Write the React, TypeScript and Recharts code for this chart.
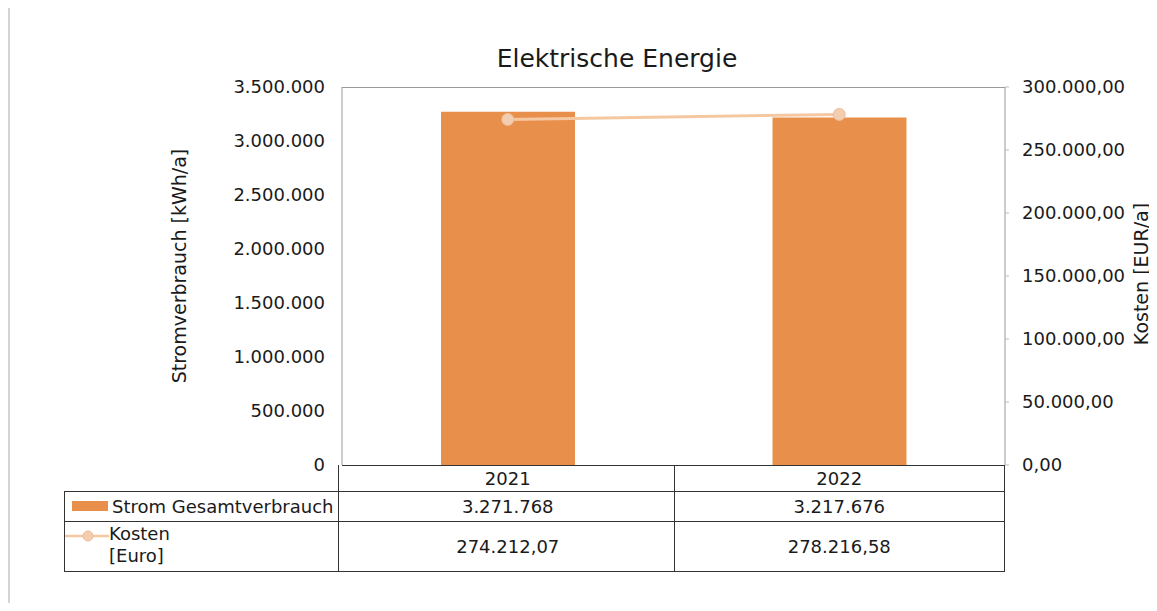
import { ComposedChart, Bar, Line, XAxis, YAxis } from "recharts";

const years = ["2021", "2022"];
const stromKwh = [3271768, 3217676];
const kostenEur = [274212.07, 278216.58];
const stromTicks = [0, 500000, 1000000, 1500000, 2000000, 2500000, 3000000, 3500000];
const kostenTicks = [0, 50000, 100000, 150000, 200000, 250000, 300000];

const FONT = "'DejaVu Sans', Verdana, sans-serif";
const BAR_COLOR = "#e98f4c";
const LINE_COLOR = "#f5c8a2";
const TEXT = "#1a1a1a";

// german number formatting, done by hand so it does not depend on ICU
function fmtInt(n: number) {
  return Math.round(n).toString().replace(/\B(?=(\d{3})+(?!\d))/g, ".");
}
function fmtDec(n: number) {
  const [i, d] = n.toFixed(2).split(".");
  return i.replace(/\B(?=(\d{3})+(?!\d))/g, ".") + "," + d;
}

const data = years.map((year, i) => ({
  year,
  strom: stromKwh[i],
  kosten: kostenEur[i],
}));

// plot area edges in page pixels
const PLOT_L = 342;
const PLOT_R = 1005;
const PLOT_T = 87;
const PLOT_B = 465;
const W = 1157;
const H = 611;

const cell: React.CSSProperties = {
  position: "absolute",
  display: "flex",
  alignItems: "center",
  justifyContent: "center",
  fontSize: 18,
  color: TEXT,
  boxSizing: "border-box",
  whiteSpace: "nowrap",
};

function DataTable() {
  const colW = (PLOT_R - PLOT_L) / years.length;
  const rowYear = { top: PLOT_B, h: 26 };
  const rowStrom = { top: 491, h: 30 };
  const rowKosten = { top: 521, h: 51 };
  const bottom = rowKosten.top + rowKosten.h;
  const line = "1px solid #333";
  const legL = 64;
  return (
    <>
      <div style={{ position: "absolute", left: PLOT_L - 4, top: PLOT_B, width: PLOT_R - PLOT_L + 4, height: bottom - PLOT_B, borderLeft: line, borderRight: line, borderBottom: line, boxSizing: "border-box" }} />
      <div style={{ position: "absolute", left: legL, top: rowStrom.top, width: PLOT_L - 4 - legL, height: bottom - rowStrom.top, border: line, borderRight: "none", boxSizing: "border-box" }} />
      <div style={{ position: "absolute", left: PLOT_L - 4, top: rowStrom.top, width: PLOT_R - PLOT_L + 4, borderTop: line }} />
      <div style={{ position: "absolute", left: legL, top: rowKosten.top, width: PLOT_R - legL, borderTop: line }} />
      <div style={{ position: "absolute", left: PLOT_L + colW, top: PLOT_B, height: bottom - PLOT_B, borderLeft: line }} />

      {years.map((y, i) => (
        <div key={y}>
          <div style={{ ...cell, left: PLOT_L + i * colW, top: rowYear.top, width: colW, height: rowYear.h }}>{y}</div>
          <div style={{ ...cell, left: PLOT_L + i * colW, top: rowStrom.top, width: colW, height: rowStrom.h }}>{fmtInt(stromKwh[i])}</div>
          <div style={{ ...cell, left: PLOT_L + i * colW, top: rowKosten.top, width: colW, height: rowKosten.h }}>{fmtDec(kostenEur[i])}</div>
        </div>
      ))}

      {/* legend column */}
      <div style={{ ...cell, left: 72, top: rowStrom.top, height: rowStrom.h, justifyContent: "flex-start" }}>
        <span style={{ display: "inline-block", width: 36, height: 10, background: BAR_COLOR, marginRight: 4 }} />
        Strom Gesamtverbrauch
      </div>
      <div style={{ ...cell, left: 65, top: rowKosten.top + 2, height: rowKosten.h, justifyContent: "flex-start", alignItems: "flex-start" }}>
        <svg width={44} height={24} style={{ marginTop: 1 }}>
          <line x1={0} y1={12} x2={44} y2={12} stroke={LINE_COLOR} strokeWidth={2.5} />
          <circle cx={23} cy={12} r={5} fill="#f3cdb0" stroke="#efbd95" />
        </svg>
        <div style={{ lineHeight: "22px" }}>
          Kosten
          <br />
          [Euro]
        </div>
      </div>
    </>
  );
}

export default function App() {
  return (
    <div style={{ position: "relative", width: W, height: H, margin: -8, fontFamily: FONT, background: "#fff", overflow: "hidden" }}>
      {/* page frame */}
      <div style={{ position: "absolute", left: 8, top: -2, width: W, height: 606, borderLeft: "2px solid #d4d4d4", borderBottom: "2px solid #d4d4d4" }} />

      <div style={{ position: "absolute", left: 0, top: 0 }}>
        <ComposedChart
          width={W}
          height={H}
          data={data}
          margin={{ top: PLOT_T, right: 0, left: 0, bottom: H - PLOT_B }}
        >
          <XAxis xAxisId="main" dataKey="year" hide />
          <YAxis
            yAxisId="left"
            width={PLOT_L}
            domain={[0, 3500000]}
            ticks={stromTicks}
            tickFormatter={fmtInt}
            tickLine={false}
            tickMargin={11}
            axisLine={{ stroke: "#999" }}
            tick={{ fill: TEXT, fontSize: 18, fontFamily: FONT }}
          />
          <YAxis
            yAxisId="right"
            orientation="right"
            width={W - PLOT_R}
            domain={[0, 300000]}
            ticks={kostenTicks}
            tickFormatter={fmtDec}
            tickLine={{ stroke: "#bbb" }}
            tickSize={4}
            tickMargin={13}
            axisLine={{ stroke: "#999" }}
            tick={{ fill: TEXT, fontSize: 18, fontFamily: FONT }}
          />
          <Bar xAxisId="main" yAxisId="left" dataKey="strom" fill={BAR_COLOR} barSize={134} isAnimationActive={false} />
          <Line
            xAxisId="main"
            yAxisId="right"
            dataKey="kosten"
            stroke={LINE_COLOR}
            strokeWidth={3}
            dot={{ r: 6, fill: "#f3cdb0", stroke: "#efbd95", strokeWidth: 1 }}
            isAnimationActive={false}
          />
        </ComposedChart>
      </div>

      {/* plot frame top and baseline */}
      <div style={{ position: "absolute", left: PLOT_L, top: PLOT_T, width: PLOT_R - PLOT_L, borderTop: "1px solid #999" }} />
      <div style={{ position: "absolute", left: PLOT_L, top: PLOT_B, width: PLOT_R - PLOT_L, borderTop: "1px solid #333" }} />

      {/* title and axis titles */}
      <div style={{ position: "absolute", left: 0, width: 1234, top: 44, textAlign: "center", fontSize: 25, color: TEXT }}>
        Elektrische Energie
      </div>
      <div style={{ position: "absolute", left: 179, top: 266, transform: "translate(-50%, -50%) rotate(-90deg)", whiteSpace: "nowrap", fontSize: 19, color: TEXT }}>
        Stromverbrauch [kWh/a]
      </div>
      <div style={{ position: "absolute", left: 1141, top: 274, transform: "translate(-50%, -50%) rotate(-90deg)", whiteSpace: "nowrap", fontSize: 19, color: TEXT }}>
        Kosten [EUR/a]
      </div>

      <DataTable />
    </div>
  );
}
